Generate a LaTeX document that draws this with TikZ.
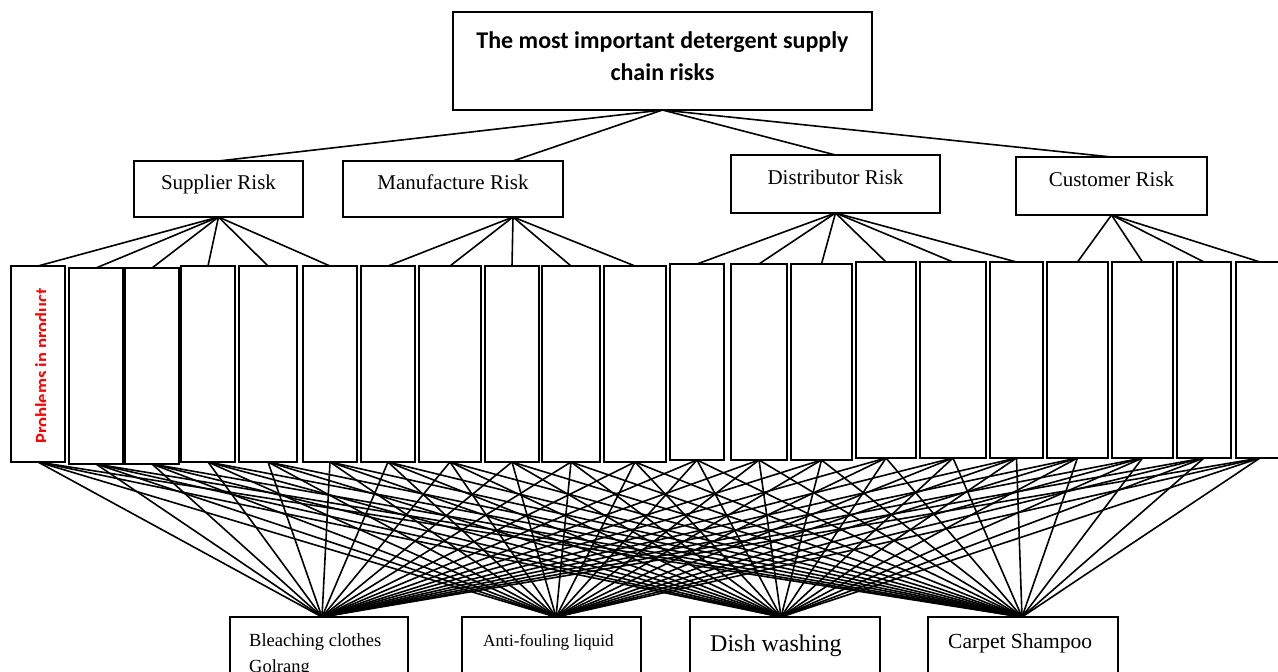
\documentclass[tikz,border=0pt]{standalone}
\usepackage{fontspec}
\setmainfont{Liberation Serif}
\newfontfamily\calfont{Carlito}
\usetikzlibrary{calc}
\begin{document}
\begin{tikzpicture}[x=1pt,y=-1pt,
  box/.style={draw, line width=1.8pt, fill=white, inner sep=0pt, outer sep=0pt},
  lvl/.style={box, font=\fontsize{21}{25}\selectfont, text height=15pt, text depth=15pt},
  conn/.style={line width=1.6pt},
  lbl/.style={inner sep=0pt, anchor=base west}]
\useasboundingbox (0,0) rectangle (1278,672);

% top box
\node[box, minimum width=419pt, minimum height=98pt] (top) at (662.5,61) {};
\node[inner sep=0pt, align=center, font=\calfont\bfseries\fontsize{24}{32}\selectfont] (toptxt) at (662.5,56) {The most important detergent supply\\chain risks};

% level 2
\node[lvl, minimum width=169pt, minimum height=56pt] (sup) at (218.5,189) {Supplier Risk};
\node[lvl, minimum width=220pt, minimum height=56pt] (man) at (453,189) {Manufacture Risk};
\node[lvl, minimum width=209pt, minimum height=58pt] (dis) at (835.5,184) {Distributor Risk};
\node[lvl, minimum width=191pt, minimum height=58pt] (cus) at (1111.5,186) {Customer Risk};
\coordinate (mtop) at ($(man.north)+(60,0)$);
\coordinate (mbot) at ($(man.south)+(60,0)$);

% row of risk boxes
\foreach \i/\l/\r/\t/\b in {1/11/65/266/462,2/69/123/268/464,3/125/179/268/464,4/181/235/266/462,5/239/297/266/462,6/303/357/266/462,7/361/415/266/462,8/419/481/266/462,9/485/539/266/462,10/542/600/266/462,11/604/666/266/462,12/670/724/264/460,13/731/787/264/460,14/791/852/264/460,15/856/916/262/458,16/920/986/262/458,17/990/1043/262/458,18/1047/1108/262/458,19/1112/1173/262/458,20/1177/1231/262/458,21/1236/1284/262/458}
  \node[box, minimum width={(\r-\l)*1pt}, minimum height={(\b-\t)*1pt}] (r\i) at ({(\l+\r)/2},{(\t+\b)/2}) {};

\begin{scope}
  \clip (12,267) rectangle (45.5,461);
  \node[inner sep=0pt, rotate=90, anchor=base west, text=red, font=\calfont\bfseries\fontsize{18.5}{22}\selectfont] (prob) at (48,444) {Problems in product};
\end{scope}

% bottom boxes
\node[box, minimum width=178pt, minimum height=80pt, anchor=north] (b1) at (319,617) {};
\node[box, minimum width=179pt, minimum height=80pt, anchor=north] (b2) at (551.5,617) {};
\node[box, minimum width=190pt, minimum height=80pt, anchor=north] (b3) at (785,617) {};
\node[box, minimum width=190pt, minimum height=80pt, anchor=north] (b4) at (1023,617) {};
\coordinate (in1) at ($(b1.north)+(3,0)$);
\coordinate (in2) at ($(b2.north)+(4.5,0)$);
\coordinate (in3) at ($(b3.north)+(-4,0)$);
\coordinate (in4) at ($(b4.north)+(-1,0)$);

\node[inner sep=0pt, anchor=north west, align=left, font=\fontsize{18.5}{26}\selectfont] (t1) at (249,633.5) {Bleaching clothes\\Golrang};
\node[lbl, font=\fontsize{17.2}{20}\selectfont] (t2) at (483,646) {Anti-fouling liquid};
\node[lbl, font=\fontsize{24}{28}\selectfont] (t3) at (710,651) {Dish washing};
\node[lbl, font=\fontsize{21.5}{25}\selectfont] (t4) at (948,648) {Carpet Shampoo};

% connectors
\foreach \n in {sup.north, mtop, dis.north, cus.north}
  \draw[conn] (top.south) -- (\n);
\foreach \i in {1,...,6} \draw[conn] (sup.south) -- (r\i.north);
\foreach \i in {7,...,11} \draw[conn] (mbot) -- (r\i.north);
\foreach \i in {12,...,17} \draw[conn] (dis.south) -- (r\i.north);
\foreach \i in {18,...,21} \draw[conn] (cus.south) -- (r\i.north);
\foreach \i in {1,...,21}
  \foreach \j in {1,...,4}
    \draw[conn] (r\i.south) -- (in\j);
\end{tikzpicture}
\end{document}
